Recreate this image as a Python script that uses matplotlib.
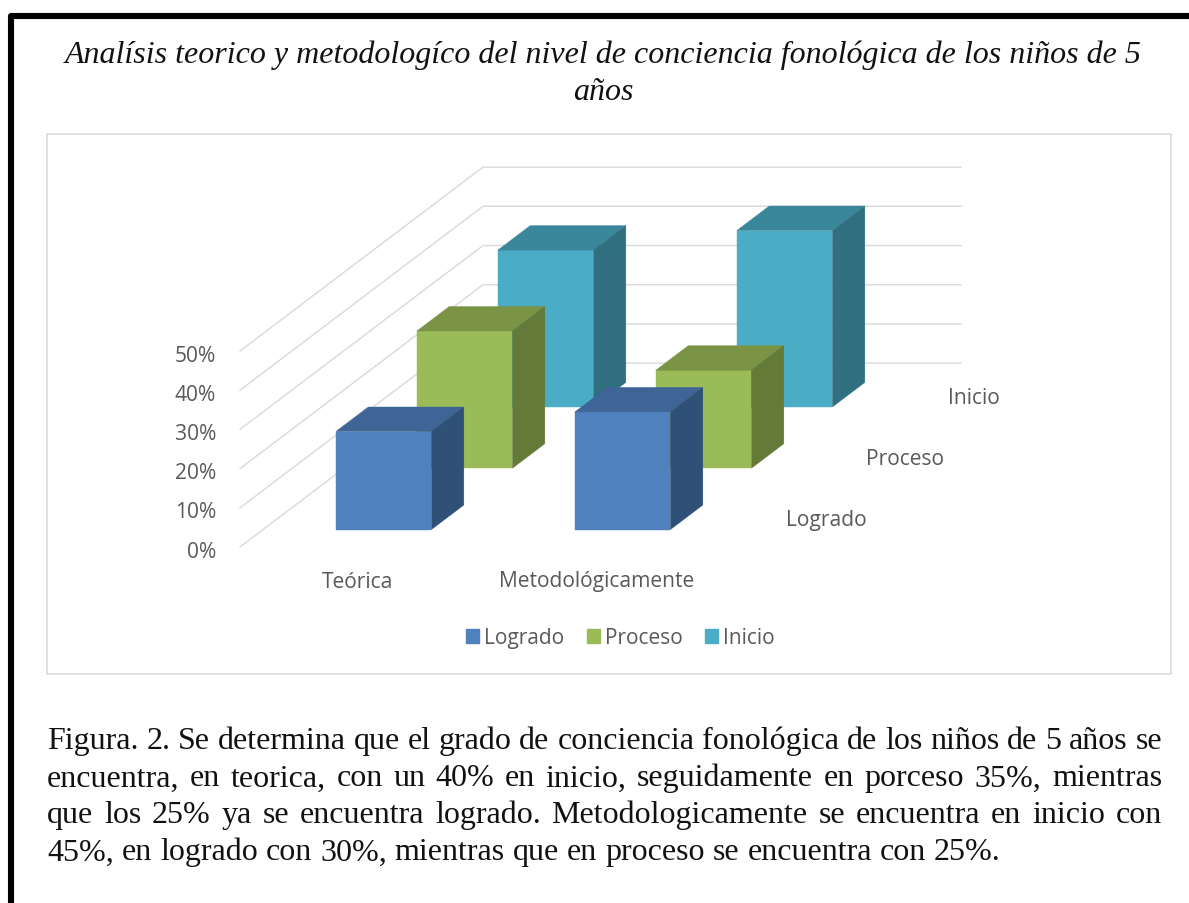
import matplotlib
matplotlib.use("Agg")
import matplotlib.pyplot as plt
from matplotlib.patches import Polygon, Rectangle, Patch
from matplotlib.lines import Line2D

W, H = 1189, 904

# ---- data ----
categories = ["Teórica", "Metodológicamente"]
series_names = ["Logrado", "Proceso", "Inicio"]
logrado = [25, 30]
proceso = [35, 25]
inicio = [40, 45]
y_ticks = [0, 10, 20, 30, 40, 50]
y_tick_labels = ["0%", "10%", "20%", "30%", "40%", "50%"]
title_lines = ["Analísis teorico y metodologíco del nivel de conciencia fonológica de los niños de 5",
               "años"]
caption_lines = [
    "Figura. 2. Se determina que el grado de conciencia fonológica de los niños de 5 años se",
    "encuentra, en teorica, con un 40% en inicio, seguidamente en porceso 35%, mientras",
    "que los 25% ya se encuentra logrado. Metodologicamente se encuentra en inicio con",
    "45%, en logrado con 30%, mientras que en proceso se encuentra con 25%.",
]

# ---- styles: (front, top, side) ----
colors = [("#4F81BD", "#3E6596", "#2F5178"),
          ("#9BBB59", "#7A9345", "#647A39"),
          ("#4BACC6", "#3A879C", "#306F80")]
text_grey = "#595959"
grid_grey = "#D9D9D9"
sans = "Open Sans"
serif = "Liberation Serif"
label_size = 15.1
legend_size = 15.0
caption_size = 23.0

fig = plt.figure(figsize=(W / 100, H / 100), dpi=100, facecolor="white")

# page layer in pixel coordinates
page = fig.add_axes([0, 0, 1, 1])
page.set_xlim(0, W)
page.set_ylim(H, 0)
page.axis("off")
page.add_line(Line2D([11, 11, W + 5], [H + 5, 17, 17], color="black", lw=4.4,
                     solid_joinstyle="round"))
page.add_patch(Rectangle((47, 135), 1124, 540, fc="white", ec="#D9D9D9", lw=1.1))

for i, line in enumerate(title_lines):
    page.text(603.5, 55 + 37.5 * i, line, family=serif, style="italic", fontsize=23.0,
              ha="center", va="center", color="#111111")


def justified(line, y, left, right, justify):
    rend = fig.canvas.get_renderer()
    words = line.split(" ")
    widths = []
    for w in words:
        t = page.text(0, 0, w, family=serif, fontsize=caption_size)
        widths.append(t.get_window_extent(rend).width)
        t.remove()
    space = 0.25 * caption_size * 100 / 72
    if justify:
        space = (right - left - sum(widths)) / (len(words) - 1)
    x = left
    for w, wd in zip(words, widths):
        page.text(x, y, w, family=serif, fontsize=caption_size, ha="left", va="baseline",
                  color="#111111")
        x += wd + space


for i, line in enumerate(caption_lines):
    justified(line, 749.5 + 37 * i, 47, 1162, i < 3)

# chart layer: u = category axis (239 px per category), v = percent (3.92 px per %)
PX_U, PX_V = 239.0, 3.92
ORIGIN_X, ORIGIN_Y = 240.0, 548.0
DEPTH_U, DEPTH_V = 81.0 / PX_U, 61.3 / PX_V   # shift per series along depth
ax = fig.add_axes([0, 0, 1, 1], facecolor="none")
ax.set_xlim(-ORIGIN_X / PX_U, (W - ORIGIN_X) / PX_U)
ax.set_ylim(-(H - ORIGIN_Y) / PX_V, ORIGIN_Y / PX_V)
ax.axis("off")


def proj(cat, val, depth):
    return cat + depth * DEPTH_U, val + depth * DEPTH_V


ncat, nser = len(categories), len(series_names)
for t, lab in zip(y_ticks, y_tick_labels):
    a, b, c = proj(0, t, 0), proj(0, t, nser), proj(ncat, t, nser)
    ax.plot([a[0], b[0], c[0]], [a[1], b[1], c[1]], color=grid_grey, lw=1.0, zorder=1)
    ax.annotate(lab, a, xytext=(-24, -4), textcoords="offset pixels", ha="right", va="center",
                family=sans, fontsize=label_size, color=text_grey)

BAR_W, GAP_C, GAP_D = 0.4, 0.3044, 0.285
values = [logrado, proceso, inicio]
z = 2
for s in reversed(range(nser)):
    front, top, side = colors[s]
    for c in range(ncat):
        x0, x1 = c + GAP_C, c + GAP_C + BAR_W
        d0, d1 = s + GAP_D, s + GAP_D + BAR_W
        v = values[s][c]
        faces = [
            ([(x0, 0, d0), (x1, 0, d0), (x1, v, d0), (x0, v, d0)], front),
            ([(x0, v, d0), (x1, v, d0), (x1, v, d1), (x0, v, d1)], top),
            ([(x1, 0, d0), (x1, 0, d1), (x1, v, d1), (x1, v, d0)], side),
        ]
        for pts, col in faces:
            ax.add_patch(Polygon([proj(*p) for p in pts], closed=True, fc=col, ec=col,
                                 lw=0.3, zorder=z))
        z += 1

for c, cat in enumerate(categories):
    ax.annotate(cat, proj(c + 0.5, 0, 0), xytext=(-1.5, -34), textcoords="offset pixels",
                ha="center", va="center", family=sans, fontsize=label_size, color=text_grey)
for s, name in enumerate(series_names):
    ax.annotate(name, proj(ncat, 0, s + 0.5), xytext=(27, -3.5), textcoords="offset pixels",
                ha="left", va="center", family=sans, fontsize=label_size, color=text_grey)

handles = [Patch(fc=colors[i][0], ec=colors[i][0], label=series_names[i]) for i in range(nser)]
leg = fig.legend(handles=handles, loc="center", bbox_to_anchor=(620.5 / W, 1 - 638.5 / H),
                 ncol=3, frameon=False, fontsize=legend_size, handlelength=0.64, handleheight=0.64,
                 handletextpad=0.24, columnspacing=1.06, borderpad=0)
for t in leg.get_texts():
    t.set_color(text_grey)
    t.set_family(sans)

fig.savefig("out.png", dpi=100, facecolor="white")
